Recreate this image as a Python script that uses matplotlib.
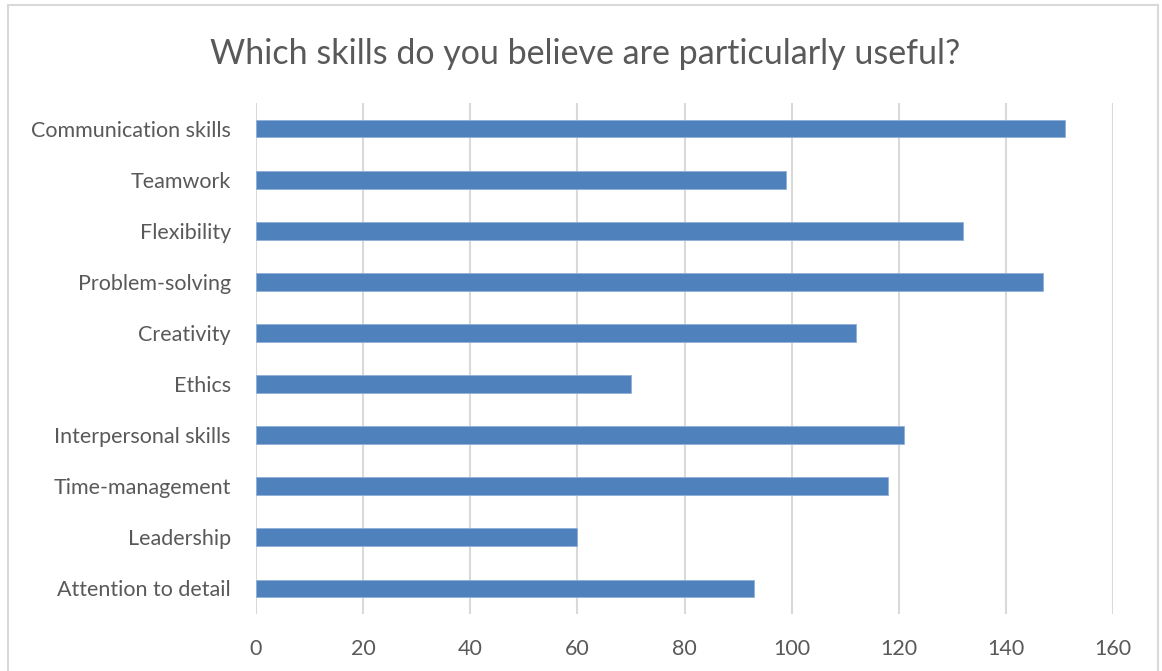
import matplotlib.pyplot as plt
from matplotlib.patches import Rectangle

# survey answers, listed top to bottom as shown
skills = ["Communication skills", "Teamwork", "Flexibility", "Problem-solving",
          "Creativity", "Ethics", "Interpersonal skills", "Time-management",
          "Leadership", "Attention to detail"]
counts = [151, 99, 132, 147, 112, 70, 121, 118, 60, 93]
xticks = [0, 20, 40, 60, 80, 100, 120, 140, 160]

plt.rcParams['font.family'] = ['Lato', 'DejaVu Sans']
text_col = "#595959"
bar_col = "#4f81bd"

fig = plt.figure(figsize=(11.62, 6.71), dpi=100)
ax = fig.add_axes([256 / 1162, 1 - 614 / 671, (1113 - 256) / 1162, (614 - 103) / 671])

ypos = list(range(len(skills)))[::-1]
ax.barh(ypos, counts, height=0.35, color=bar_col, edgecolor="#8fb0d9",
        linewidth=0.6, zorder=3)

ax.set_xlim(0, 160)
ax.set_ylim(-0.5, len(skills) - 0.5)
ax.set_xticks(xticks)
ax.set_xticklabels([str(t) for t in xticks])
ax.set_yticks(ypos)
ax.set_yticklabels(skills)
ax.tick_params(axis="both", length=0, labelsize=15.5, colors=text_col)
ax.tick_params(axis="x", pad=18)
ax.tick_params(axis="y", pad=18)
ax.grid(axis="x", color="#d9d9d9", linewidth=1.5, zorder=0)
for s in ax.spines.values():
    s.set_visible(False)

fig.text(585 / 1162, 1 - 54 / 671, "Which skills do you believe are particularly useful?",
         ha="center", va="center", fontsize=24.5, color=text_col)

# chart frame
fig.patches.append(Rectangle((8 / 1162, -0.02), 1150 / 1162, 1 - 5 / 671 + 0.02,
                             transform=fig.transFigure, fill=False,
                             edgecolor="#d9d9d9", linewidth=1.5))

fig.savefig("out.png", dpi=100)
